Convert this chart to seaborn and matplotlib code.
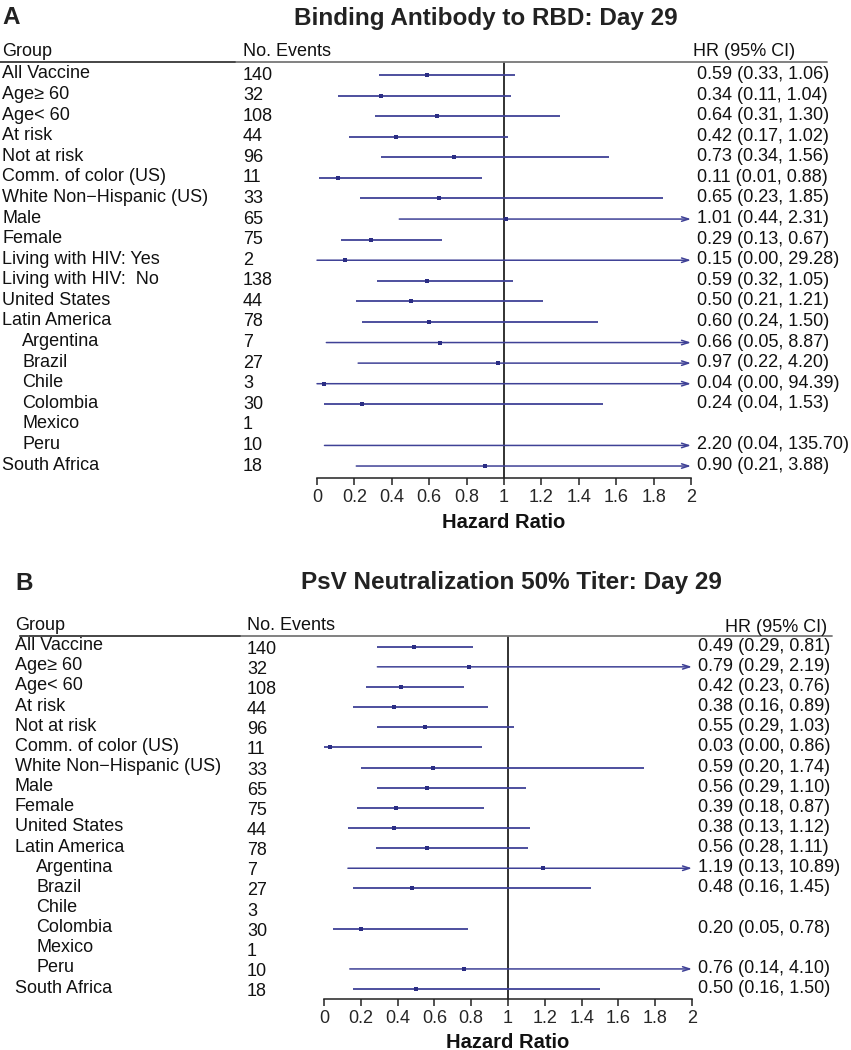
import numpy as np
import pandas as pd
import matplotlib
matplotlib.use("Agg")
import matplotlib.pyplot as plt
import matplotlib.transforms as mtransforms
from matplotlib.lines import Line2D
import seaborn as sns

nan = np.nan

# ---------------- data ----------------
groups_a = ["All Vaccine", "Age\u2265 60", "Age< 60", "At risk", "Not at risk",
            "Comm. of color (US)", "White Non\u2212Hispanic (US)", "Male", "Female",
            "Living with HIV: Yes", "Living with HIV:  No", "United States",
            "Latin America", "Argentina", "Brazil", "Chile", "Colombia",
            "Mexico", "Peru", "South Africa"]
events_a = [140, 32, 108, 44, 96, 11, 33, 65, 75, 2, 138, 44, 78, 7, 27, 3, 30, 1, 10, 18]
hr_a = [0.59, 0.34, 0.64, 0.42, 0.73, 0.11, 0.65, 1.01, 0.29, 0.15, 0.59, 0.50,
        0.60, 0.66, 0.97, 0.04, 0.24, nan, 2.20, 0.90]
lo_a = [0.33, 0.11, 0.31, 0.17, 0.34, 0.01, 0.23, 0.44, 0.13, 0.00, 0.32, 0.21,
        0.24, 0.05, 0.22, 0.00, 0.04, nan, 0.04, 0.21]
hi_a = [1.06, 1.04, 1.30, 1.02, 1.56, 0.88, 1.85, 2.31, 0.67, 29.28, 1.05, 1.21,
        1.50, 8.87, 4.20, 94.39, 1.53, nan, 135.70, 3.88]

groups_b = ["All Vaccine", "Age\u2265 60", "Age< 60", "At risk", "Not at risk",
            "Comm. of color (US)", "White Non\u2212Hispanic (US)", "Male", "Female",
            "United States", "Latin America", "Argentina", "Brazil", "Chile",
            "Colombia", "Mexico", "Peru", "South Africa"]
events_b = [140, 32, 108, 44, 96, 11, 33, 65, 75, 44, 78, 7, 27, 3, 30, 1, 10, 18]
hr_b = [0.49, 0.79, 0.42, 0.38, 0.55, 0.03, 0.59, 0.56, 0.39, 0.38, 0.56, 1.19,
        0.48, nan, 0.20, nan, 0.76, 0.50]
lo_b = [0.29, 0.29, 0.23, 0.16, 0.29, 0.00, 0.20, 0.29, 0.18, 0.13, 0.28, 0.13,
        0.16, nan, 0.05, nan, 0.14, 0.16]
hi_b = [0.81, 2.19, 0.76, 0.89, 1.03, 0.86, 1.74, 1.10, 0.87, 1.12, 1.11, 10.89,
        1.45, nan, 0.78, nan, 4.10, 1.50]

subregions = ["Argentina", "Brazil", "Chile", "Colombia", "Mexico", "Peru"]
x_ticks = [0, 0.2, 0.4, 0.6, 0.8, 1, 1.2, 1.4, 1.6, 1.8, 2]
title_a = "Binding Antibody to RBD: Day 29"
title_b = "PsV Neutralization 50% Titer: Day 29"

# ---------------- style ----------------
sns.set_theme(style="white")
plt.rcParams["font.family"] = ["Liberation Sans", "DejaVu Sans"]

W, H = 851, 1050
fig = plt.figure(figsize=(W / 100, H / 100), dpi=100)

LINE_C = "#3F4196"
PT_C = "#2B2D84"
FS = 13.0


def fx(px):
    return px / W


def fy(py):
    return 1 - py / H


def panel(groups, events, hr, lo, hi, letter, title, L):
    n = len(groups)
    step = L["step"]
    r0 = L["row0"]
    ax = fig.add_axes([fx(L["ax_l"]), fy(L["ax_b"]),
                       fx(L["ax_r"] - L["ax_l"]), (L["ax_b"] - L["ax_t"]) / H])
    ax.set_xlim(0, 2)
    ax.set_ylim((L["ax_b"] - r0) / step, (L["ax_t"] - r0) / step)
    ax.patch.set_alpha(0)
    for s in ["top", "right", "left"]:
        ax.spines[s].set_visible(False)
    ax.spines["bottom"].set_color("#222222")
    ax.spines["bottom"].set_linewidth(1.1)
    ax.set_yticks([])
    ax.set_xticks(x_ticks)
    ax.set_xticklabels([f"{v:g}" for v in x_ticks], fontsize=FS)
    ax.tick_params(axis="x", direction="out", length=5, width=1.1,
                   color="#222222", pad=3, bottom=True)
    ax.axvline(1, color="#222222", lw=1.3, zorder=1)

    rows = np.arange(n)
    for i in rows:
        if np.isnan(lo[i]):
            continue
        a = max(lo[i], 0)
        b = hi[i]
        if b > 2:
            ax.annotate("", xy=(2, i), xytext=(a, i),
                        arrowprops=dict(arrowstyle="->,head_length=0.5,head_width=0.16",
                                        color=LINE_C, lw=1.1, shrinkA=0, shrinkB=0,
                                        mutation_scale=10),
                        zorder=2)
        else:
            ax.plot([a, b], [i, i], color=LINE_C, lw=1.3, solid_capstyle="butt", zorder=2)

    df = pd.DataFrame({"hr": hr, "row": rows})
    df = df[df["hr"].notna() & (df["hr"] <= 2)]
    sns.scatterplot(data=df, x="hr", y="row", marker="s", s=8, color=PT_C,
                    edgecolor=PT_C, linewidth=0, ax=ax, zorder=3, legend=False)
    ax.set_xlabel("")
    ax.set_ylabel("")

    tr = mtransforms.blended_transform_factory(fig.transFigure, ax.transData)
    for i in rows:
        g = groups[i]
        xg = L["indent"] if g in subregions else L["lab_x"]
        fig.text(fx(xg), i + L["lab_dy"] / step, g, transform=tr, fontsize=FS,
                 ha="left", va="center", color="#111111")
        fig.text(fx(L["ev_x"]), i + L["ev_dy"] / step, str(events[i]), transform=tr,
                 fontsize=FS, ha="left", va="center", color="#111111")
        if not np.isnan(hr[i]):
            s = f"{hr[i]:.2f} ({lo[i]:.2f}, {hi[i]:.2f})"
            fig.text(fx(L["hr_x"]), i + L["hr_dy"] / step, s, transform=tr,
                     fontsize=FS, ha="left", va="center", color="#111111")

    # headers
    fig.text(fx(L["lab_x"]), fy(L["head_y"]), "Group", fontsize=FS, ha="left",
             va="center", color="#111111")
    fig.text(fx(L["ev_x"]), fy(L["head_y"]), "No. Events", fontsize=FS, ha="left",
             va="center", color="#111111")
    fig.text(fx(L["hrh_x"]), fy(L["hrh_y"]), "HR (95% CI)", fontsize=FS,
             ha=L["hrh_ha"], va="center", color="#111111")
    fig.add_artist(Line2D([fx(L["line_x0"]), fx(L["line_x1"])],
                          [fy(L["ax_t"]), fy(L["ax_t"])], color="#777777", lw=1.3))
    fig.add_artist(Line2D([fx(L["line_x0"]), fx(L["line_xd"])],
                          [fy(L["ax_t"]), fy(L["ax_t"])], color="#444444", lw=1.3))

    # titles
    fig.text(fx(L["let_x"]), fy(L["title_y"]), letter, fontsize=17.5,
             fontweight="bold", ha="left", va="center", color="#222222")
    fig.text(fx(L["title_x"]), fy(L["title_y"]), title, fontsize=17.5,
             fontweight="bold", ha="center", va="center", color="#222222")
    trx = mtransforms.blended_transform_factory(ax.transData, fig.transFigure)
    fig.text(1, fy(L["xlab_y"]), "Hazard Ratio", transform=trx, fontsize=14.5,
             fontweight="bold", ha="center", va="center", color="#111111")
    return ax


LA = dict(ax_l=317, ax_r=691, ax_t=62, ax_b=478, row0=75, step=20.58,
          let_x=2, title_x=486, title_y=18, head_y=51, hrh_x=693, hrh_y=51,
          hrh_ha="left", line_x0=0, line_x1=827, line_xd=235,
          lab_x=2, indent=22, ev_x=243, hr_x=697,
          lab_dy=-1.0, ev_dy=0.0, hr_dy=-0.5, xlab_y=522)
LB = dict(ax_l=324, ax_r=692, ax_t=636, ax_b=999, row0=646.7, step=20.14,
          let_x=15, title_x=511, title_y=583, head_y=625, hrh_x=827, hrh_y=627,
          hrh_ha="right", line_x0=20, line_x1=832, line_xd=240,
          lab_x=15, indent=36, ev_x=247, hr_x=698,
          lab_dy=-1.0, ev_dy=2.5, hr_dy=-0.5, xlab_y=1042)

panel(groups_a, events_a, hr_a, lo_a, hi_a, "A", title_a, LA)
panel(groups_b, events_b, hr_b, lo_b, hi_b, "B", title_b, LB)

fig.savefig("out.png", dpi=100)
